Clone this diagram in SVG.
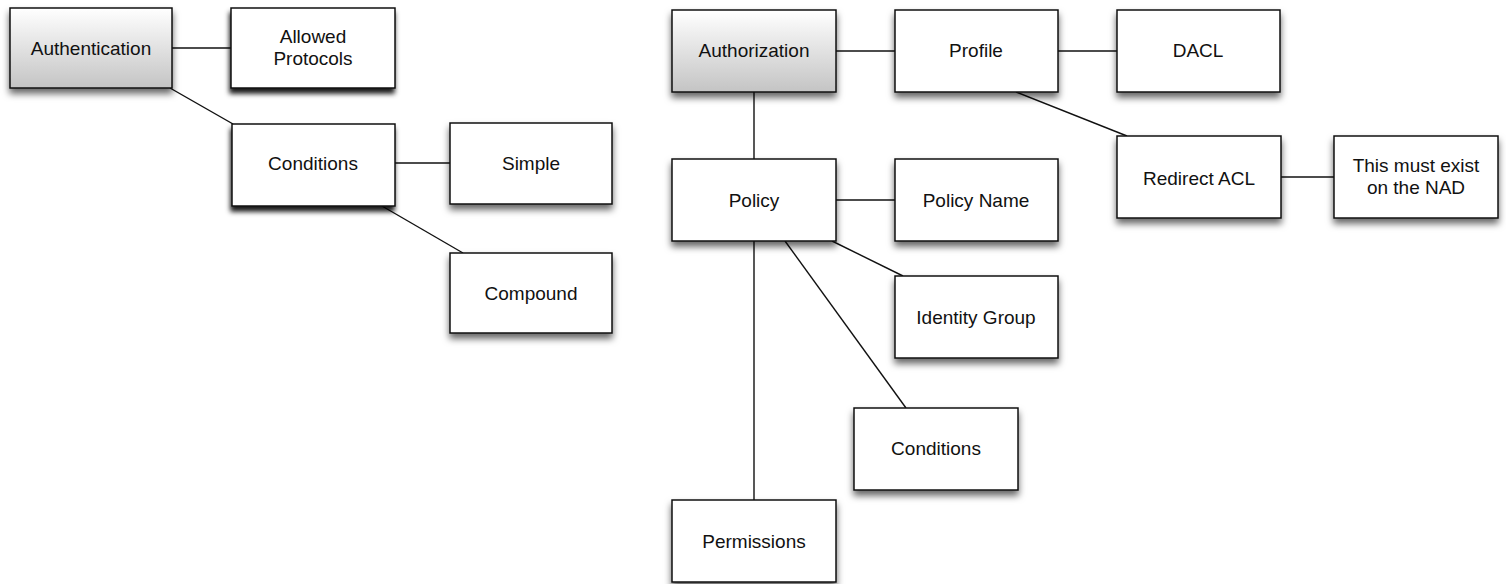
<svg xmlns="http://www.w3.org/2000/svg" width="1506" height="584" viewBox="0 0 1506 584">
  <defs>
    <linearGradient id="rootFill" x1="0" y1="0" x2="0" y2="1">
      <stop offset="0" stop-color="#ffffff"/>
      <stop offset="1" stop-color="#c4c4c4"/>
    </linearGradient>
    <filter id="shadow" x="-20%" y="-20%" width="140%" height="160%">
      <feDropShadow dx="0" dy="5" stdDeviation="3.5" flood-color="#000" flood-opacity="0.6"/>
    </filter>
    <filter id="shadowHeavy" x="-20%" y="-20%" width="140%" height="160%">
      <feDropShadow dx="-1" dy="5" stdDeviation="2.5" flood-color="#000" flood-opacity="0.9"/>
    </filter>
  </defs>
  <style>
    .box { fill: #ffffff; stroke: #111; stroke-width: 1.5; filter: url(#shadow); }
    .root { fill: url(#rootFill); }
    .heavy { filter: url(#shadowHeavy); }
    .lbl { font-family: "Liberation Sans", Arial, Helvetica, sans-serif; font-size: 19px; fill: #111; text-anchor: middle; }
    .edge { stroke: #111; stroke-width: 1.4; fill: none; }
  </style>
  <rect width="1506" height="584" fill="#ffffff"/>

  <!-- connectors -->
  <g id="connectors">
    <line class="edge" x1="172" y1="48" x2="231" y2="48"/>
    <line class="edge" x1="170" y1="88" x2="233" y2="124"/>
    <line class="edge" x1="395" y1="163" x2="450" y2="163"/>
    <line class="edge" x1="382" y1="206" x2="463" y2="253"/>
    <line class="edge" x1="836" y1="51" x2="895" y2="51"/>
    <line class="edge" x1="1058" y1="51" x2="1117" y2="51"/>
    <line class="edge" x1="1016" y1="92" x2="1127" y2="136"/>
    <line class="edge" x1="1281" y1="177" x2="1334" y2="177"/>
    <line class="edge" x1="754" y1="92" x2="754" y2="159"/>
    <line class="edge" x1="836" y1="200" x2="895" y2="200"/>
    <line class="edge" x1="832" y1="241" x2="903" y2="276"/>
    <line class="edge" x1="785" y1="241" x2="906" y2="408"/>
    <line class="edge" x1="754" y1="241" x2="754" y2="500"/>
  </g>

  <!-- left tree -->
  <g id="authentication">
    <rect class="box root" x="10" y="8" width="162" height="80"/>
    <text class="lbl" x="91" y="55">Authentication</text>
  </g>
  <g id="allowed-protocols">
    <rect class="box heavy" x="231" y="8" width="164" height="80"/>
    <text class="lbl" x="313" y="43">Allowed</text>
    <text class="lbl" x="313" y="65">Protocols</text>
  </g>
  <g id="auth-conditions">
    <rect class="box heavy" x="232" y="124" width="163" height="82"/>
    <text class="lbl" x="313" y="170">Conditions</text>
  </g>
  <g id="simple">
    <rect class="box" x="450" y="123" width="162" height="81"/>
    <text class="lbl" x="531" y="170">Simple</text>
  </g>
  <g id="compound">
    <rect class="box" x="450" y="253" width="162" height="80"/>
    <text class="lbl" x="531" y="300">Compound</text>
  </g>

  <!-- right tree -->
  <g id="authorization">
    <rect class="box root" x="672" y="10" width="164" height="82"/>
    <text class="lbl" x="754" y="57">Authorization</text>
  </g>
  <g id="profile">
    <rect class="box" x="895" y="10" width="163" height="82"/>
    <text class="lbl" x="976" y="57">Profile</text>
  </g>
  <g id="dacl">
    <rect class="box" x="1117" y="10" width="163" height="82"/>
    <text class="lbl" x="1198" y="57">DACL</text>
  </g>
  <g id="redirect-acl">
    <rect class="box" x="1117" y="136" width="164" height="82"/>
    <text class="lbl" x="1199" y="185">Redirect ACL</text>
  </g>
  <g id="nad-note">
    <rect class="box" x="1334" y="136" width="164" height="82"/>
    <text class="lbl" x="1416" y="172">This must exist</text>
    <text class="lbl" x="1416" y="194">on the NAD</text>
  </g>
  <g id="policy">
    <rect class="box" x="672" y="159" width="164" height="82"/>
    <text class="lbl" x="754" y="207">Policy</text>
  </g>
  <g id="policy-name">
    <rect class="box" x="895" y="159" width="163" height="82"/>
    <text class="lbl" x="976" y="207">Policy Name</text>
  </g>
  <g id="identity-group">
    <rect class="box" x="895" y="276" width="163" height="82"/>
    <text class="lbl" x="976" y="324">Identity Group</text>
  </g>
  <g id="policy-conditions">
    <rect class="box" x="854" y="408" width="164" height="82"/>
    <text class="lbl" x="936" y="455">Conditions</text>
  </g>
  <g id="permissions">
    <rect class="box" x="672" y="500" width="164" height="82"/>
    <text class="lbl" x="754" y="548">Permissions</text>
  </g>
</svg>
